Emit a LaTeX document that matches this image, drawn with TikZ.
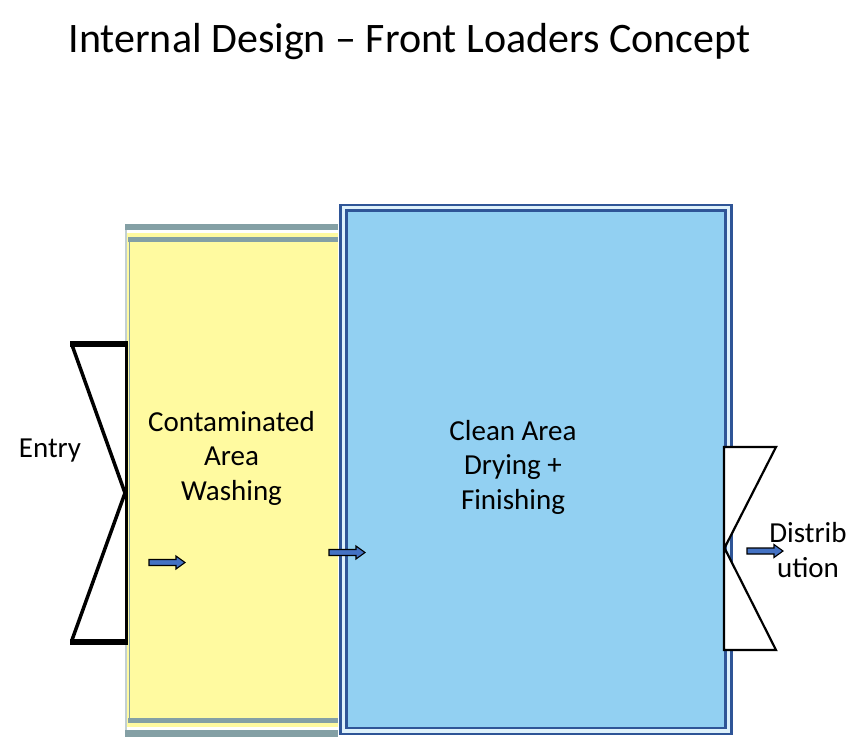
\documentclass[tikz,border=0pt]{standalone}
\usepackage{fontspec}
\setmainfont{Carlito}
\usetikzlibrary{positioning}

\definecolor{washyellow}{RGB}{255,250,160}
\definecolor{washgray}{RGB}{132,160,165}
\definecolor{cleanblue}{RGB}{146,208,242}
\definecolor{frameblue}{RGB}{47,85,151}
\definecolor{arrowblue}{RGB}{68,114,196}

\begin{document}
\begin{tikzpicture}[
  x=1pt,y=-1pt,
  font=\fontsize{29}{34.5}\selectfont,
  lbl/.style={align=center,inner sep=0pt},
  cleanbox/.style={draw=frameblue,line width=2.7pt,double=cleanblue!30!white,double distance=3.2pt,
    fill=cleanblue,minimum width=385.5pt,minimum height=523.2pt,inner sep=0pt},
  gatebar/.style={line width=6.6pt},
  gateline/.style={line width=3.5pt},
  flowarrow/.style={draw=black,fill=arrowblue,line width=1.1pt,line join=miter}
]
\useasboundingbox (0,0) rectangle (867,737);

\node[anchor=base,font=\fontsize{42}{46}\selectfont] (title) at (409.5,52) {Internal Design – Front Loaders Concept};

% contaminated side
\fill[washyellow] (125,224) rectangle (338,737);
\draw[washgray!50,line width=1.6pt] (126,226) -- (126,735);
\fill[washgray] (125,224) rectangle (338,230);
\fill[white] (127,230) rectangle (338,233);
\fill[washgray] (128,237) rectangle (338,242);
\draw[washgray,line width=1.2pt] (129.2,237) -- (129.2,723);
\fill[washgray] (128,718) rectangle (338,723);
\fill[white] (127,727) rectangle (338,730);
\fill[washgray] (125,730) rectangle (338,737);

% clean side
\node[cleanbox] (clean) at (536,469.4) {};

% entry gate
\draw[gateline] (72,345) -- (125,493) -- (72,640);
\draw[line width=3pt] (126.5,344) -- (126.5,642);
\draw[gatebar] (70,344) -- (128,344);
\draw[gatebar] (70,642) -- (128,642);

% exit gate
\draw[fill=white,line width=2.2pt] (724,447) -- (776,447) -- (724.5,548) -- (776,650) -- (724,650) -- cycle;

\foreach \ax/\ay in {149/562.5,329/552.5,747/551}{
  \draw[flowarrow] (\ax,\ay-3) -- ++(27,0) -- ++(0,-3.5) -- ++(9,6.5) -- ++(-9,6.5) -- ++(0,-3.5) -- ++(-27,0) -- cycle;
}

\node[anchor=base] (entry) at (50,457) {Entry};
\node[lbl] (wash) at (231.5,458) {Contaminated\\Area\\Washing};
\node[lbl] (cleantext) at (513,467) {Clean Area\\Drying +\\Finishing};
\node[lbl] (dist) at (808,550) {Distrib\\ution};
\end{tikzpicture}
\end{document}
